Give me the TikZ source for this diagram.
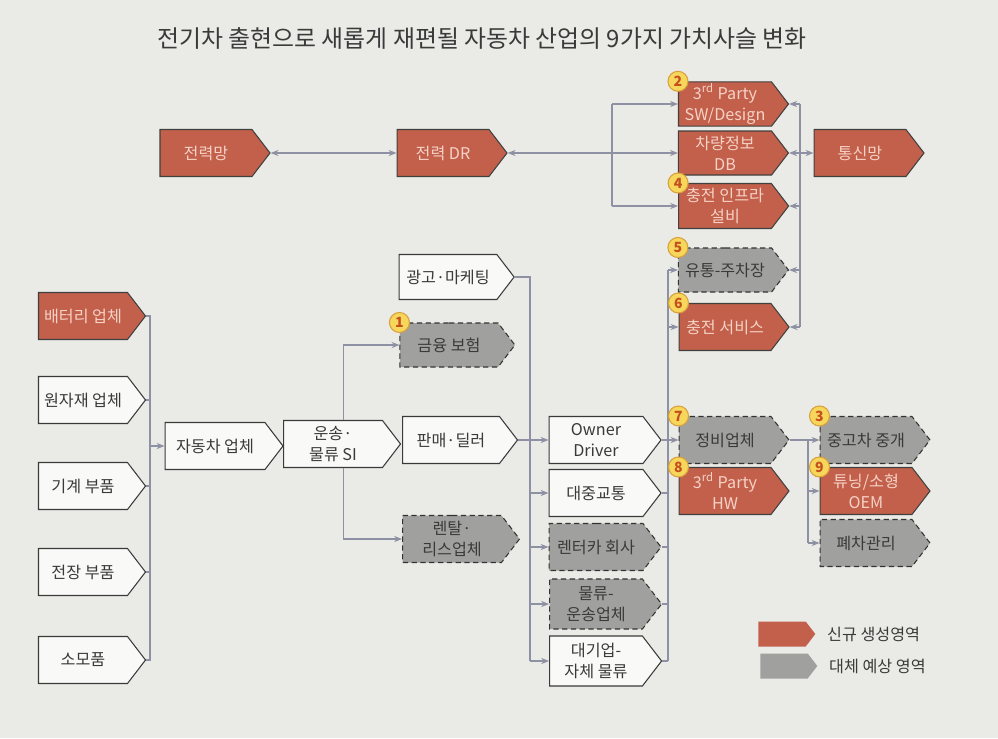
\documentclass[tikz,border=0pt]{standalone}
\usepackage{fontspec}
\setmainfont{Noto Sans CJK KR}
\usetikzlibrary{arrows.meta,shapes.symbols}

\definecolor{paper}{HTML}{EAEAE6}
\definecolor{newred}{HTML}{C2604B}
\definecolor{newtxt}{HTML}{F6D2C6}
\definecolor{subgray}{HTML}{A0A09E}
\definecolor{wire}{HTML}{8D91A3}
\definecolor{ink}{HTML}{3A3A3A}
\definecolor{badge}{HTML}{F7D65C}
\definecolor{badgeln}{HTML}{D9A03A}
\definecolor{badgetxt}{HTML}{C4501E}

\begin{document}
\begin{tikzpicture}[x=0.02cm,y=-0.02cm,
 box/.style={signal,signal to=east,signal pointer angle=105,minimum width=2.2cm,minimum height=0.94cm,inner sep=1pt,align=center,font=\fontsize{9.2}{12}\selectfont,line width=0.6pt},
 nbox/.style={box,draw=black!75,fill=newred,text=newtxt},
 gbox/.style={box,draw=black!80,densely dashed,fill=subgray,text=ink},
 wbox/.style={box,draw=ink,fill=white!70!paper,text=ink},
 ln/.style={draw=wire,line width=0.6pt},
 a/.style={ln,-{Stealth[length=4.5pt,width=3.5pt]}},
 ra/.style={ln,{Stealth[length=4.5pt,width=3.5pt]}-},
 aa/.style={ln,{Stealth[length=4.5pt,width=3.5pt]}-{Stealth[length=4.5pt,width=3.5pt]}},
 num/.style={circle,draw=badgeln,fill=badge,line width=0.6pt,minimum size=0.4cm,inner sep=0pt,text=badgetxt,font=\fontsize{8}{8}\bfseries\selectfont}]
\fill[paper] (0,0) rectangle (998,738);
\useasboundingbox (0,0) rectangle (998,738);
\node[font=\fontsize{13.6}{15}\selectfont,text=ink] (title) at (482,38) {전기차 출현으로 새롭게 재편될 자동차 산업의 9가지 가치사슬 변화};

\node[nbox] (grid) at (206,153) {전력망};
\node[nbox] (dr) at (443,153) {전력 DR};
\node[nbox,minimum height=0.84cm] (sw) at (725,104) {3\textsuperscript{rd} Party\\SW/Design};
\node[nbox,minimum height=0.88cm] (vdb) at (725,153) {차량정보\\DB};
\node[nbox,minimum height=0.9cm] (infra) at (725,206) {충전 인프라\\설비};
\node[nbox] (tel) at (860,153) {통신망};
\node[gbox,minimum height=0.88cm] (park) at (725,270) {유통-주차장};
\node[nbox] (chsv) at (725,327) {충전 서비스};
\node[gbox] (repair) at (725,440) {정비업체};
\node[nbox] (hw) at (725,491) {3\textsuperscript{rd} Party\\HW};
\node[gbox] (used) at (866,440) {중고차 중개};
\node[nbox] (tune) at (866,491) {튜닝/소형\\OEM};
\node[gbox] (scrap) at (866,543) {폐차관리};

\node[nbox,minimum width=2.14cm] (bat) at (83,316) {배터리 업체};
\node[wbox,minimum width=2.14cm] (raw) at (83,400) {원자재 업체};
\node[wbox,minimum width=2.14cm] (mech) at (83,486) {기계 부품};
\node[wbox,minimum width=2.14cm] (elec) at (83,572) {전장 부품};
\node[wbox,minimum width=2.14cm] (cons) at (83,660) {소모품};
\node[wbox,minimum width=2.36cm] (car) at (215,446) {자동차 업체};
\node[wbox,minimum width=2.34cm] (si) at (333,444) {운송·\\물류 SI};
\node[wbox,minimum width=2.3cm,minimum height=0.9cm] (ad) at (448,277) {광고·마케팅};
\node[gbox,minimum width=2.3cm,minimum height=0.88cm] (fin) at (449,345) {금융 보험};
\node[wbox,minimum width=2.3cm] (sale) at (451,440) {판매·딜러};
\node[gbox,minimum width=2.34cm] (lease) at (452,539) {렌탈·\\리스업체};

\node[wbox,minimum width=2.24cm] (od) at (596,440) {Owner\\Driver};
\node[wbox,minimum width=2.24cm] (pub) at (596,493) {대중교통};
\node[gbox,minimum width=2.24cm] (rent) at (596,547) {렌터카 회사};
\node[gbox,minimum width=2.24cm,minimum height=1cm] (logi) at (596,604) {물류-\\운송업체};
\node[wbox,minimum width=2.24cm,minimum height=1cm] (big) at (596,661) {대기업-\\자체 물류};

\node[nbox,draw=none,minimum width=1.14cm,minimum height=0.5cm] (lgn) at (782,634) {};
\node[anchor=west,text=ink,font=\fontsize{9.2}{10}\selectfont] (lgnt) at (821,634) {신규 생성영역};
\node[box,fill=subgray,minimum width=1.14cm,minimum height=0.5cm] (lgg) at (784,666) {};
\node[anchor=west,text=ink,font=\fontsize{9.2}{10}\selectfont] (lggt) at (823,666) {대체 예상 영역};

\coordinate (busA) at (150,0);
\coordinate (busB) at (530,0);
\coordinate (busC) at (668,0);
\coordinate (busD) at (612,0);
\coordinate (busE) at (800,0);
\coordinate (busF) at (808,0);

\draw[aa] (grid.east) -- (dr.west);
\draw[ra] (dr.east) -- (dr.east -| busD);
\draw[ln] (sw.west -| busD) -- (infra.west -| busD);
\draw[a] (sw.west -| busD) -- (sw.west);
\draw[a] (dr.east -| busD) -- (vdb.west);
\draw[a] (infra.west -| busD) -- (infra.west);

\draw[ln] (sw.east -| busE) -- (chsv.east -| busE);
\foreach \n in {sw,infra,park,chsv} \draw[ra] (\n.east) -- (\n.east -| busE);
\draw[aa] (vdb.east) -- (tel.west);

\draw[ln] (bat.east) -- (bat.east -| busA) -- (cons.east -| busA) -- (cons.east);
\foreach \n in {raw,mech,elec} \draw[ln] (\n.east) -- (\n.east -| busA);
\draw[a] (car.west -| busA) -- (car.west);

\draw[a] ([xshift=6]si.north) |- (fin.west);
\draw[a] ([xshift=6]si.south) |- (lease.west);

\draw[ln] (ad.east) -- (ad.east -| busB) -- (big.west -| busB);
\draw[ln] (sale.east) -- (sale.east -| busB);
\foreach \n in {od,pub,rent,logi,big} \draw[a] (\n.west -| busB) -- (\n.west);

\draw[ln] (park.west -| busC) -- (big.east -| busC);
\foreach \n in {pub,rent,logi,big} \draw[ln] (\n.east) -- (\n.east -| busC);
\draw[a] (od.east) -- (repair.west);
\draw[a] (park.west -| busC) -- (park.west);
\draw[a] (chsv.west -| busC) -- (chsv.west);

\draw[a] (repair.east) -- (used.west);
\draw[ln] (repair.east -| busF) -- (scrap.west -| busF);
\draw[a] (tune.west -| busF) -- (tune.west);
\draw[a] (scrap.west -| busF) -- (scrap.west);

\node[num] (n1) at (fin.west |- fin.north) {1};
\node[num] (n2) at (sw.west |- sw.north) {2};
\node[num] (n3) at (used.west |- used.north) {3};
\node[num] (n4) at (infra.west |- infra.north) {4};
\node[num] (n5) at (park.west |- park.north) {5};
\node[num] (n6) at (chsv.west |- chsv.north) {6};
\node[num] (n7) at (repair.west |- repair.north) {7};
\node[num] (n8) at (hw.west |- hw.north) {8};
\node[num] (n9) at (tune.west |- tune.north) {9};
\end{tikzpicture}
\end{document}
